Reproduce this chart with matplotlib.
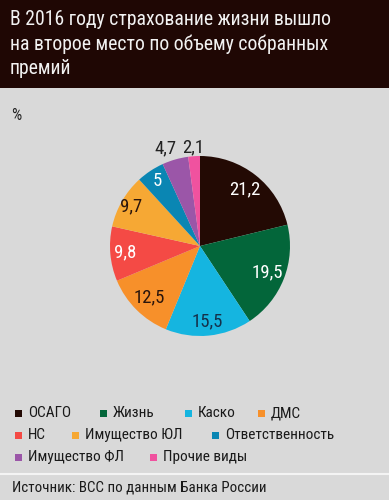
import matplotlib
matplotlib.use("Agg")
import matplotlib.pyplot as plt
from matplotlib.patches import Rectangle
import numpy as np

plt.rcParams['font.family'] = ['Roboto Condensed', 'DejaVu Sans']

# --- data ---
categories = ['ОСАГО', 'Жизнь', 'Каско', 'ДМС', 'НС', 'Имущество ЮЛ',
              'Ответственность', 'Имущество ФЛ', 'Прочие виды']
shares = [21.2, 19.5, 15.5, 12.5, 9.8, 9.7, 5, 4.7, 2.1]
value_labels = ['21,2', '19,5', '15,5', '12,5', '9,8', '9,7', '5', '4,7', '2,1']
colors = ['#230a04', '#03663a', '#15b5e0', '#f7902a', '#f44a45',
          '#f6a834', '#0a86b3', '#9b56a8', '#f0529f']
label_colors = ['white', 'white', '#14304a', '#2a150c', 'white',
                '#2a150c', 'white', '#222222', '#222222']
label_dist = [0.8, 0.8, 0.84, 0.8, 0.83, 0.88, 0.86, 1.13, 1.1]
label_dx = [0, 0, 0, 0, 0, 0, 0, -0.07, 0]

legend_rows = [['ОСАГО', 'Жизнь', 'Каско', 'ДМС'],
               ['НС', 'Имущество ЮЛ', 'Ответственность'],
               ['Имущество ФЛ', 'Прочие виды']]
legend_x = {'ОСАГО': 15, 'Жизнь': 100, 'Каско': 185, 'ДМС': 258,
            'НС': 15, 'Имущество ЮЛ': 72, 'Ответственность': 212,
            'Имущество ФЛ': 15, 'Прочие виды': 150}
legend_y = [413, 435, 457]

title = 'В 2016 году страхование жизни вышло\nна второе место по объему собранных\nпремий'
source = 'Источник: ВСС по данным Банка России'

W, H = 389, 500
BG = '#d9d9d9'
fig = plt.figure(figsize=(W / 100, H / 100), dpi=100, facecolor=BG)

def fx(x):
    return x / W

def fy(y):
    return 1 - y / H

# header band
fig.patches.append(Rectangle((0, fy(88)), 1, 88 / H, transform=fig.transFigure,
                             facecolor='#1f0704', edgecolor='none', zorder=0))
fig.text(fx(10), fy(10), title, color='#f2f2f2', fontsize=14.2, va='top',
         ha='left', linespacing=1.33)

fig.text(fx(11), fy(115), '%', color='#222222', fontsize=11.5, va='center')

# pie
cx, cy, r = 200, 246, 90
ax = fig.add_axes([fx(cx - r), fy(cy + r), 2 * r / W, 2 * r / H])
ax.set_facecolor('none')
wedges, _ = ax.pie(shares, colors=colors, startangle=90, counterclock=False,
                   radius=1, wedgeprops=dict(linewidth=0))
for w, lab, lc, d, dx in zip(wedges, value_labels, label_colors, label_dist, label_dx):
    ang = np.deg2rad((w.theta1 + w.theta2) / 2)
    ax.text(d * np.cos(ang) + dx, d * np.sin(ang), lab, color=lc, fontsize=13.5,
            ha='center', va='center')
ax.set_xlim(-1, 1)
ax.set_ylim(-1, 1)
ax.set_aspect('equal')
ax.axis('off')

# legend
for row, y in zip(legend_rows, legend_y):
    for name in row:
        x = legend_x[name]
        c = colors[categories.index(name)]
        fig.patches.append(Rectangle((fx(x), fy(y + 3.5)), 7 / W, 7 / H,
                                     transform=fig.transFigure,
                                     facecolor=c, edgecolor='none'))
        fig.text(fx(x + 13), fy(y), name, color='#1a1a1a', fontsize=11,
                 va='center', ha='left')

# separator and source
fig.add_artist(plt.Line2D([0, 1], [fy(474), fy(474)], color='#f4f4f4', lw=1.5))
fig.text(fx(12), fy(488), source, color='#1a1a1a', fontsize=10.8, va='center')

fig.savefig('out.png', dpi=100, facecolor=BG)
